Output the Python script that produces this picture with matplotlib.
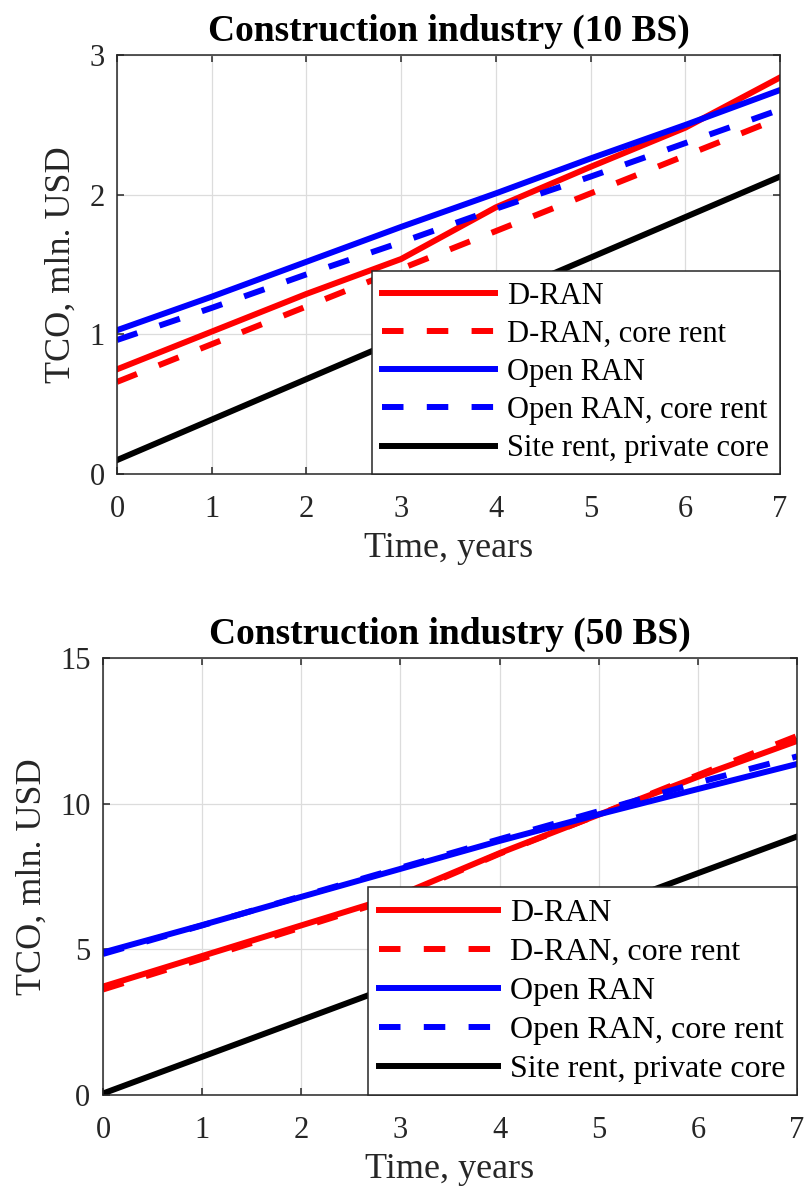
import matplotlib

matplotlib.use("Agg")
import matplotlib.pyplot as plt

plt.rcParams["font.family"] = ["Liberation Serif", "DejaVu Serif"]

years = [0, 1, 2, 3, 4, 5, 6, 7]
labels = [
    "D-RAN",
    "D-RAN, core rent",
    "Open RAN",
    "Open RAN, core rent",
    "Site rent, private core",
]

# TCO, mln. USD -- 10 base stations
bs10_dran = [0.75, 1.02, 1.29, 1.54, 1.91, 2.20, 2.48, 2.84]
bs10_dran_core = [0.66, 0.93, 1.20, 1.47, 1.74, 2.01, 2.28, 2.55]
bs10_oran = [1.03, 1.27, 1.52, 1.77, 2.01, 2.26, 2.50, 2.75]
bs10_oran_core = [0.96, 1.19, 1.43, 1.66, 1.90, 2.13, 2.37, 2.61]
bs10_site = [0.10, 0.39, 0.68, 0.97, 1.26, 1.55, 1.84, 2.13]

# TCO, mln. USD -- 50 base stations
bs50_dran = [3.72, 4.77, 5.82, 6.87, 8.30, 9.62, 10.92, 12.15]
bs50_dran_core = [3.62, 4.68, 5.75, 6.82, 8.28, 9.62, 10.98, 12.32]
bs50_oran = [4.89, 5.83, 6.80, 7.76, 8.72, 9.63, 10.50, 11.36]
bs50_oran_core = [4.84, 5.82, 6.82, 7.80, 8.78, 9.74, 10.72, 11.62]
bs50_site = [0.05, 1.31, 2.57, 3.83, 5.09, 6.35, 7.61, 8.87]

STYLES = [
    ("#ff0000", "-"),
    ("#ff0000", (0, (3.6, 3.9))),
    ("#0000ff", "-"),
    ("#0000ff", (0, (3.6, 3.9))),
    ("#000000", "-"),
]
TEXT = "#262626"


def draw(ax, series, title, ymax, ystep, legend_size):
    for vals, (color, ls), lab in zip(series, STYLES, labels):
        ax.plot(years, vals, color=color, linestyle=ls, lw=4.3, label=lab)
    ax.set_xlim(0, 7)
    ax.set_ylim(0, ymax)
    ax.set_xticks(range(0, 8))
    ax.set_yticks(range(0, ymax + 1, ystep))
    ax.grid(True, color="#dcdcdc", linewidth=0.9)
    ax.set_axisbelow(True)
    ax.tick_params(direction="in", top=True, right=True, length=5, width=1.1,
                   labelsize=22, colors=TEXT)
    ax.tick_params(axis="x", pad=15)
    ax.tick_params(axis="y", pad=9)
    for sp in ax.spines.values():
        sp.set_color(TEXT)
        sp.set_linewidth(1.1)
    ax.set_title(title, fontsize=27, fontweight="bold", pad=10)
    ax.set_xlabel("Time, years", fontsize=26, color=TEXT, labelpad=6)
    ax.set_ylabel("TCO, mln. USD", fontsize=26, color=TEXT, labelpad=8)
    leg = ax.legend(loc="lower right", borderaxespad=0, fontsize=legend_size,
                    handlelength=3.7, handletextpad=0.4, labelspacing=0.3,
                    borderpad=0.35, fancybox=False, framealpha=1,
                    edgecolor=TEXT)
    leg.get_frame().set_linewidth(1.1)
    for t in leg.get_texts():
        t.set_color("#000000")


fig = plt.figure(figsize=(8.07, 11.98), dpi=100)
ax1 = fig.add_axes([0.145, 0.6043, 0.8216, 0.3497])
ax2 = fig.add_axes([0.1276, 0.0860, 0.8600, 0.3648])

draw(ax1, [bs10_dran, bs10_dran_core, bs10_oran, bs10_oran_core, bs10_site],
     "Construction industry (10 BS)", 3, 1, 22)
draw(ax2, [bs50_dran, bs50_dran_core, bs50_oran, bs50_oran_core, bs50_site],
     "Construction industry (50 BS)", 15, 5, 23)

fig.savefig("out.png", dpi=100)
